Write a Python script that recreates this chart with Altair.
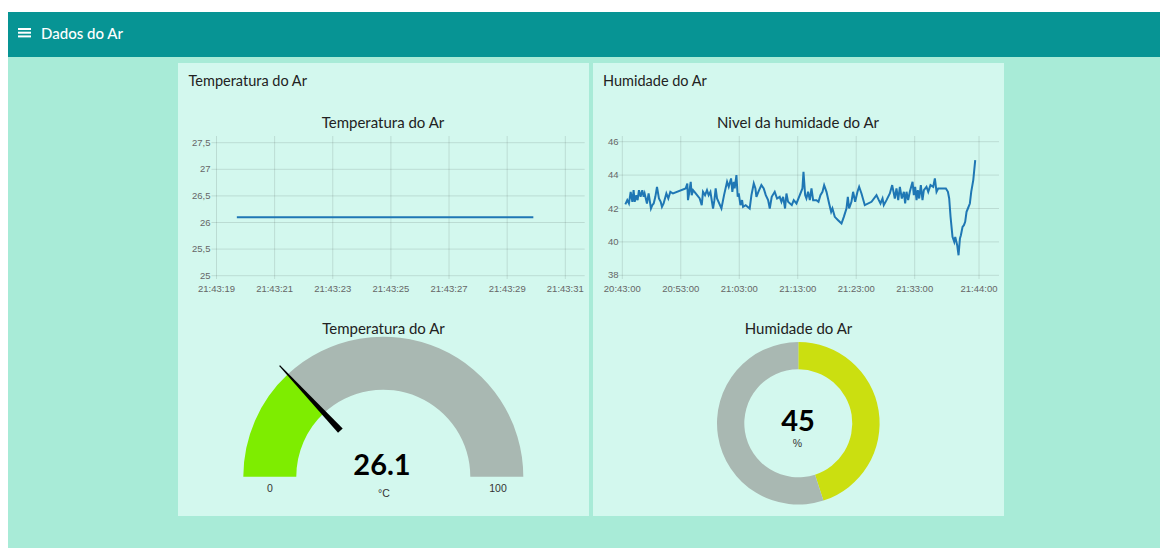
import math
import altair as alt
import pandas as pd

# ---------------- data ----------------
temp_times = ["21:43:19.7", "21:43:22.2", "21:43:24.7", "21:43:27.3", "21:43:29.9"]
temp_values = [26.1, 26.1, 26.1, 26.1, 26.1]
temp_x_ticks = ["21:43:19", "21:43:21", "21:43:23", "21:43:25", "21:43:27", "21:43:29", "21:43:31"]
temp_y_ticks = [25, 25.5, 26, 26.5, 27, 27.5]
temp_y_labels = ["25", "25,5", "26", "26,5", "27", "27,5"]
temp_x_domain = ["21:43:19", "21:43:31.667"]
temp_y_domain = [25, 27.5]

hum_times = [
    "20:43:31", "20:43:51", "20:44:08", "20:44:26", "20:44:43", "20:44:56", "20:45:07", "20:45:24",
    "20:45:37", "20:45:51", "20:46:08", "20:46:25", "20:46:39", "20:46:49", "20:47:13", "20:47:30",
    "20:47:41", "20:47:54", "20:48:08", "20:48:22", "20:48:39", "20:48:56", "20:49:16", "20:49:34",
    "20:49:47", "20:50:04", "20:50:32", "20:50:52", "20:51:13", "20:51:40", "20:53:50", "20:54:07",
    "20:54:14", "20:54:25", "20:54:42", "20:54:52", "20:55:06", "20:55:33", "20:56:14", "20:56:35",
    "20:56:48", "20:57:09", "20:57:29", "20:57:46", "20:58:04", "20:58:31", "20:58:45", "20:58:58",
    "20:59:12", "20:59:57", "21:00:24", "21:00:55", "21:01:12", "21:01:36", "21:01:49", "21:02:03",
    "21:02:13", "21:02:31", "21:02:44", "21:02:55", "21:03:12", "21:03:29", "21:03:39", "21:04:06",
    "21:04:47", "21:05:05", "21:05:29", "21:05:46", "21:05:56", "21:06:16", "21:06:47", "21:07:11",
    "21:07:32", "21:07:56", "21:08:13", "21:08:33", "21:09:04", "21:09:28", "21:09:55", "21:10:13",
    "21:10:30", "21:10:50", "21:11:04", "21:11:21", "21:11:59", "21:12:19", "21:12:47", "21:13:21",
    "21:13:48", "21:13:59", "21:14:16", "21:14:29", "21:14:46", "21:15:04", "21:15:21", "21:15:38",
    "21:16:12", "21:16:33", "21:16:53", "21:17:14", "21:17:31", "21:17:55", "21:18:22", "21:18:43",
    "21:18:56", "21:19:20", "21:19:54", "21:20:29", "21:20:53", "21:21:20", "21:21:34", "21:21:47",
    "21:22:11", "21:22:28", "21:22:49", "21:23:13", "21:23:30", "21:23:54", "21:24:28", "21:25:37",
    "21:26:28", "21:26:52", "21:27:09", "21:27:30", "21:27:43", "21:28:11", "21:28:45", "21:29:09",
    "21:29:36", "21:29:53", "21:30:11", "21:30:28", "21:30:48", "21:31:09", "21:31:22", "21:31:36",
    "21:31:53", "21:32:10", "21:32:38", "21:32:51", "21:33:05", "21:33:19", "21:33:32", "21:33:46",
    "21:34:03", "21:34:20", "21:34:34", "21:35:01", "21:35:19", "21:35:42", "21:36:10", "21:36:27",
    "21:36:44", "21:37:01", "21:38:20", "21:38:41", "21:38:54", "21:39:08", "21:39:28", "21:39:46",
    "21:39:56", "21:40:16", "21:40:30", "21:40:44", "21:40:54", "21:41:11", "21:41:25", "21:41:38",
    "21:41:52", "21:42:06", "21:42:26", "21:42:40", "21:43:01", "21:43:21",
]
hum_values = [
    42.25, 42.5, 42.3, 43.0, 42.4, 43.1, 42.4, 42.8,
    42.5, 43.1, 42.7, 43.1, 42.7, 42.9, 42.3, 42.9,
    42.5, 42.0, 42.2, 42.3, 42.7, 43.3, 42.6, 42.4,
    42.1, 42.3, 42.9, 42.6, 43.0, 42.9, 43.2, 43.5,
    42.5, 42.9, 43.6, 42.8, 43.1, 42.9, 42.6, 42.2,
    43.0, 42.8, 43.1, 42.8, 43.0, 42.0, 42.5, 43.2,
    42.6, 42.0, 42.8, 43.6, 43.3, 43.8, 43.0, 43.6,
    43.2, 44.0, 42.7, 42.9, 42.2, 42.5, 42.1, 42.2,
    42.0, 42.8, 43.5, 43.2, 42.7, 43.0, 43.4, 43.2,
    42.8, 42.5, 42.0, 42.7, 43.0, 42.6, 42.7, 42.4,
    42.7, 42.0, 42.9, 42.4, 42.2, 42.5, 42.3, 42.8,
    43.2, 44.2, 42.8, 42.6, 43.0, 42.5, 43.2, 42.5,
    42.5, 42.4, 42.8, 43.0, 43.4, 43.0, 42.3, 41.8,
    42.0, 41.5, 41.3, 41.1, 41.5, 42.0, 42.7, 42.0,
    42.4, 43.0, 42.4, 43.0, 43.3, 42.9, 42.2, 42.4,
    42.8, 42.5, 42.3, 42.6, 42.2, 42.5, 42.9, 43.4,
    42.6, 43.2, 42.5, 43.3, 42.6, 43.0, 42.3, 43.0,
    42.5, 43.0, 43.6, 42.8, 43.3, 42.5, 43.1, 42.6,
    43.4, 42.5, 43.1, 43.3, 43.0, 43.4, 43.3, 43.8,
    43.0, 43.2, 43.2, 43.0, 42.6, 41.5, 40.3, 40.0,
    40.3, 39.8, 39.2, 40.2, 40.4, 40.9, 41.0, 41.2,
    41.8, 42.0, 42.3, 43.0, 43.7, 44.9,
]
hum_x_ticks = ["20:43:00", "20:53:00", "21:03:00", "21:13:00", "21:23:00", "21:33:00", "21:44:00"]
hum_y_ticks = [38, 40, 42, 44, 46]
hum_y_labels = ["38", "40", "42", "44", "46"]
hum_x_domain = ["20:43:00", "21:47:25"]
hum_y_domain = [38, 46]

gauge_value = 26.1
gauge_min, gauge_max = 0, 100
gauge_unit = "°C"
donut_value = 45
donut_unit = "%"

header_title = "Dados do Ar"
card_titles = ["Temperatura do Ar", "Humidade do Ar"]
chart_titles = ["Temperatura do Ar", "Nivel da humidade do Ar"]
gauge_titles = ["Temperatura do Ar", "Humidade do Ar"]

# ---------------- style / layout ----------------
PAGE = "#a8ebd7"
HEADER = "#079494"
CARD = "#d3f8ee"
LINE = "#1f77b4"
GREEN = "#7eed00"
YELLOW = "#cbdf10"
GRAY = "#a9b8b2"
TITLE_FONT = "Lato"
TICK_FONT = "Liberation Sans"

OX, OY = 8, 8
def px(x):
    return x - OX
def py(y):
    return y - OY

W, H = 1152, 540


def secs(t):
    h, m, s = t.split(":")
    return int(h) * 3600 + int(m) * 60 + float(s)


def rects(rows):
    df = pd.DataFrame(rows, columns=["x", "y", "x2", "y2", "col"])
    return alt.Chart(df).mark_rect().encode(
        x=alt.X("x:Q", scale=None, axis=None),
        x2="x2:Q",
        y=alt.Y("y:Q", scale=None, axis=None),
        y2="y2:Q",
        color=alt.Color("col:N", scale=None),
    )


def texts(rows, **style):
    df = pd.DataFrame(rows, columns=["label", "x", "y"])
    return alt.Chart(df).mark_text(**style).encode(
        x=alt.X("x:Q", scale=None, axis=None),
        y=alt.Y("y:Q", scale=None, axis=None),
        text="label:N",
    )


def line_panel(times, values, xticks, yticks, ylabels, xdom, ydom,
               x0, x1, ybot, ytop, grid_left, label_right, grid_top, grid_bot, label_y):
    xs = alt.Scale(domain=[secs(xdom[0]), secs(xdom[1])], range=[px(x0), px(x1)],
                   zero=False, nice=False)
    ys = alt.Scale(domain=ydom, range=[py(ybot), py(ytop)], zero=False, nice=False)
    df_line = pd.DataFrame({"s": [secs(t) for t in times], "v": values})
    df_xt = pd.DataFrame({"s": [secs(t) for t in xticks], "label": xticks})
    df_yt = pd.DataFrame({"v": yticks, "label": ylabels})
    vgrid = alt.Chart(df_xt).mark_rule(color="#000000", opacity=0.11, strokeWidth=1).encode(
        x=alt.X("s:Q", scale=xs, axis=None),
        y=alt.value(py(grid_top)), y2=alt.value(py(grid_bot)))
    hgrid = alt.Chart(df_yt).mark_rule(color="#000000", opacity=0.11, strokeWidth=1).encode(
        y=alt.Y("v:Q", scale=ys, axis=None),
        x=alt.value(px(grid_left)), x2=alt.value(px(x1)))
    xlab = alt.Chart(df_xt).mark_text(font=TICK_FONT, fontSize=9.5, color="#666666",
                                      baseline="middle").encode(
        x=alt.X("s:Q", scale=xs, axis=None), y=alt.value(py(label_y)), text="label:N")
    ylab = alt.Chart(df_yt).mark_text(font=TICK_FONT, fontSize=9.5, color="#666666",
                                      baseline="middle", align="right").encode(
        y=alt.Y("v:Q", scale=ys, axis=None), x=alt.value(px(label_right)), text="label:N")
    line = alt.Chart(df_line).mark_line(color=LINE, strokeWidth=2).encode(
        x=alt.X("s:Q", scale=xs, axis=None), y=alt.Y("v:Q", scale=ys, axis=None))
    return alt.layer(vgrid, hgrid, xlab, ylab, line)


# backgrounds
bg = rects([
    (px(7), py(12), W, H, PAGE),
    (px(7), py(12), W, py(57), HEADER),
    (px(178), py(63), px(589), py(516), CARD),
    (px(593), py(63), px(1004), py(516), CARD),
    (px(18), py(28), px(31), py(30), "#ffffff"),
    (px(18), py(31.7), px(31), py(33.7), "#ffffff"),
    (px(18), py(35.4), px(31), py(37.4), "#ffffff"),
])

temp_panel = line_panel(temp_times, temp_values, temp_x_ticks, temp_y_ticks, temp_y_labels,
                        temp_x_domain, temp_y_domain,
                        216.5, 584.7, 275.7, 142.7, 211.5, 210.5, 136, 279, 288.7)
hum_panel = line_panel(hum_times, hum_values, hum_x_ticks, hum_y_ticks, hum_y_labels,
                       hum_x_domain, hum_y_domain,
                       622.3, 999.0, 275.3, 141.7, 617.5, 618.5, 136, 279, 288.7)

# gauge
GCX, GCY = px(383.3), py(476.7)
gauge_df = pd.DataFrame({
    "v": [gauge_value - gauge_min, gauge_max - gauge_value],
    "col": [GREEN, GRAY],
    "ord": [0, 1],
})
gauge = alt.Chart(gauge_df).mark_arc(outerRadius=140, innerRadius=87).encode(
    theta=alt.Theta("v:Q", stack=True,
                    scale=alt.Scale(domain=[0, gauge_max - gauge_min],
                                    range=[1.5 * math.pi, 2.5 * math.pi])),
    color=alt.Color("col:N", scale=None),
    order=alt.Order("ord:Q"),
    x=alt.value(GCX), y=alt.value(GCY),
)

NEEDLE = "M -0.021 -0.414 L -0.004 -1 L 0.004 -1 L 0.021 -0.414 Z"
needle = alt.Chart(pd.DataFrame({"v": [gauge_value]})).mark_point(
    shape=NEEDLE, filled=True, size=304 * 304, color="#000000", opacity=1, strokeWidth=0
).encode(
    angle=alt.Angle("v:Q", scale=alt.Scale(domain=[gauge_min, gauge_max], range=[270, 450])),
    x=alt.value(GCX), y=alt.value(GCY),
)

# donut
DCX, DCY = px(798.3), py(423.3)
donut_df = pd.DataFrame({"v": [donut_value, 100 - donut_value], "col": [YELLOW, GRAY], "ord": [0, 1]})
donut = alt.Chart(donut_df).mark_arc(outerRadius=81.3, innerRadius=54).encode(
    theta=alt.Theta("v:Q", stack=True,
                    scale=alt.Scale(domain=[0, 100], range=[0, 2 * math.pi])),
    color=alt.Color("col:N", scale=None),
    order=alt.Order("ord:Q"),
    x=alt.value(DCX), y=alt.value(DCY),
)

# texts
header_txt = texts([(header_title, px(41), py(38.5))], font=TITLE_FONT, fontSize=15,
                   fontWeight=500, color="#ffffff", align="left", baseline="alphabetic")
card_txt = texts([(card_titles[0], px(188.5), py(85.5)), (card_titles[1], px(603), py(85.5))],
                 font=TITLE_FONT, fontSize=14.5, color="#222222", align="left",
                 baseline="alphabetic")
chart_txt = texts([(chart_titles[0], px(383), py(127.5)), (chart_titles[1], px(798), py(127.5)),
                   (gauge_titles[0], px(383.5), py(333.5)), (gauge_titles[1], px(798.5), py(333.5))],
                  font=TITLE_FONT, fontSize=15, color="#222222", align="center",
                  baseline="alphabetic")
value_txt = texts([(f"{gauge_value:.1f}", px(382), py(475)), (f"{donut_value}", px(798), py(431))],
                  font=TITLE_FONT, fontSize=29, fontWeight="bold", color="#000000",
                  align="center", baseline="alphabetic")
small_txt = texts([(gauge_unit, px(384), py(497)), (donut_unit, px(797.5), py(447)),
                   (str(gauge_min), px(270), py(492)), (str(gauge_max), px(498), py(492))],
                  font=TICK_FONT, fontSize=10.5, color="#333333", align="center",
                  baseline="alphabetic")

chart = alt.layer(
    bg, temp_panel, hum_panel, gauge, needle, donut,
    header_txt, card_txt, chart_txt, value_txt, small_txt,
).resolve_scale(
    x="independent", y="independent", theta="independent"
).properties(
    width=W, height=H, autosize="none", padding=0, background="#ffffff"
).configure_view(stroke=None)

chart.save("out.html", embed_options={"renderer": "svg", "actions": False})
